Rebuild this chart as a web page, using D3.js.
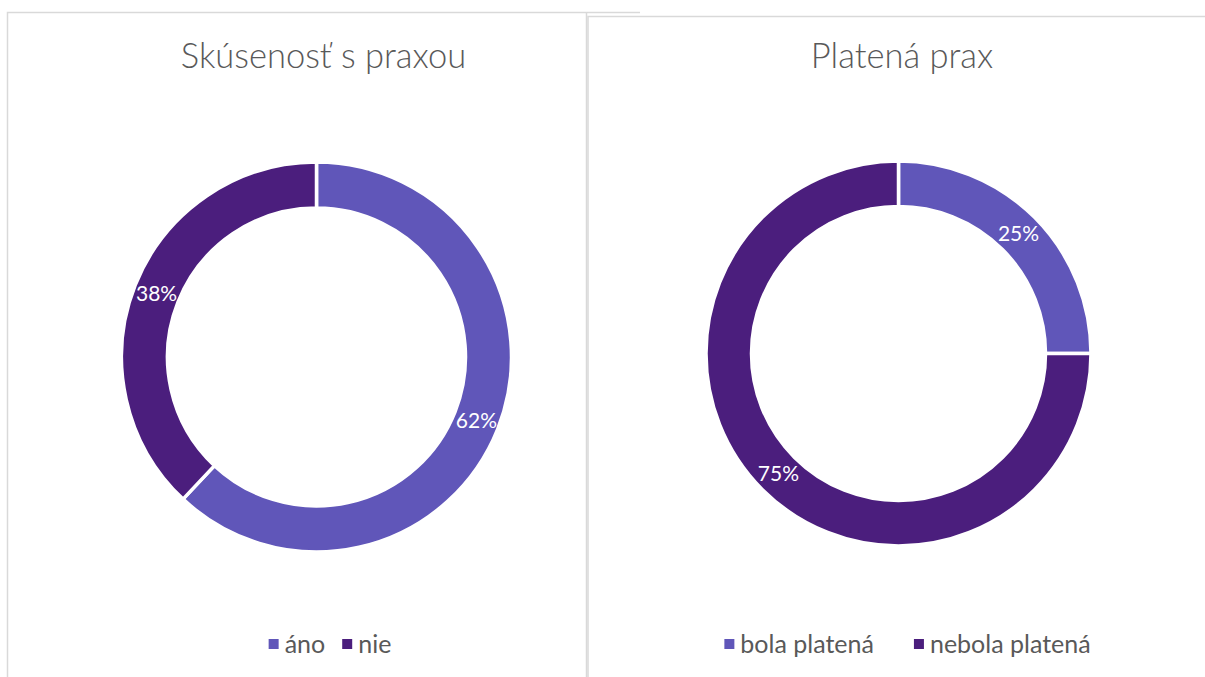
<!DOCTYPE html>
<html><head><meta charset="utf-8">
<script src="https://cdn.jsdelivr.net/npm/d3@7"></script>
<style>body{margin:0;background:#fff;}svg{display:block;}</style>
</head><body>
<script>
const titles = ["Skúsenosť s praxou", "Platená prax"];
const cats1 = ["áno", "nie"];
const vals1 = [62, 38];
const cats2 = ["bola platená", "nebola platená"];
const vals2 = [25, 75];
const colors = ["#6056b9", "#4b1e7d"];

const W = 1205, H = 677;
const svg = d3.select("body").append("svg").attr("width", W).attr("height", H);
const FONT = "Lato, 'Open Sans', sans-serif";

// panel borders
svg.append("path").attr("d", "M7.5,677 V12.5 H640").attr("fill","none").attr("stroke","#d9d9d9").attr("stroke-width",1.5);
svg.append("path").attr("d", "M586.5,12.5 V677").attr("fill","none").attr("stroke","#d9d9d9").attr("stroke-width",1.5);
svg.append("path").attr("d", "M588,677 V16.5 H1205").attr("fill","none").attr("stroke","#d9d9d9").attr("stroke-width",1.5);

const charts = [
  {title: titles[0], cats: cats1, vals: vals1, cx: 316.5, cy: 357, r: 195, ir: 149, tx: 323.5, legendX: 330, gap: 17},
  {title: titles[1], cats: cats2, vals: vals2, cx: 898.5, cy: 353.5, r: 192.5, ir: 147, tx: 902, legendX: 907.5, gap: 40}
];

charts.forEach(c => {
  const g = svg.append("g");
  g.append("text").attr("x", c.tx).attr("y", 68).attr("text-anchor","middle")
    .attr("font-family", FONT).attr("font-weight", 300).attr("font-size", 34.5).attr("fill", "#595959").text(c.title);

  const data = c.cats.map((k,i)=>({k, v:c.vals[i], i}));
  const pie = d3.pie().value(d=>d.v).sort(null);
  const arc = d3.arc().innerRadius(c.ir).outerRadius(c.r);
  const labelArc = d3.arc().innerRadius((c.ir+c.r)/2).outerRadius((c.ir+c.r)/2);
  const color = d3.scaleOrdinal().domain(c.cats).range(colors);
  const arcs = pie(data);
  const pg = g.append("g").attr("transform", `translate(${c.cx},${c.cy})`);
  pg.selectAll("path").data(arcs).join("path")
    .attr("d", arc).attr("fill", d=>color(d.data.k))
    .attr("stroke", "#fff").attr("stroke-width", 3.5).attr("stroke-linejoin","miter");
  pg.selectAll("text").data(arcs).join("text")
    .attr("transform", d=>`translate(${labelArc.centroid(d)})`)
    .attr("text-anchor","middle").attr("dy","0.35em")
    .attr("font-family", FONT).attr("font-size", 21).attr("fill","#fff")
    .text(d=>d.data.v + "%");

  // legend
  const lg = g.append("g");
  const items = lg.selectAll("g").data(data).join("g");
  items.append("rect").attr("width", 10).attr("height", 10).attr("y", -14).attr("fill", d=>color(d.k));
  items.append("text").attr("x", 16).attr("y", 0).attr("font-family", FONT).attr("font-size", 25)
    .attr("fill","#595959").text(d=>d.k);
  let x = 0;
  items.each(function(){
    const w = this.getBBox().width;
    d3.select(this).attr("transform", `translate(${x},0)`);
    x += w + c.gap;
  });
  const total = x - c.gap;
  lg.attr("transform", `translate(${c.legendX - total/2},${653})`);
});
</script>
</body></html>
